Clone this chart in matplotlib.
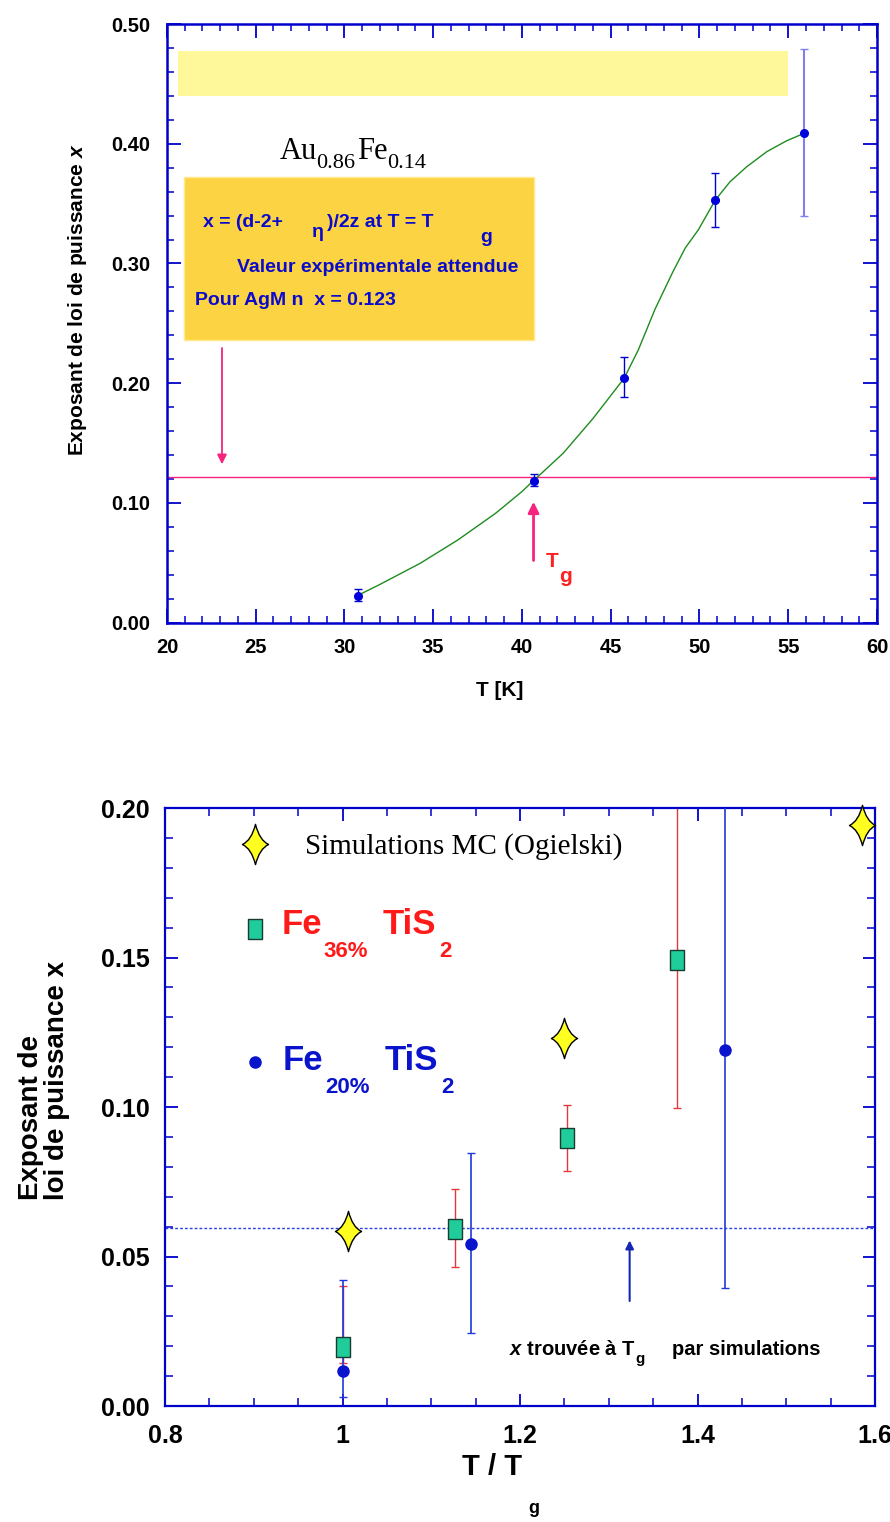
import matplotlib
matplotlib.use('Agg')
import matplotlib.pyplot as plt
from matplotlib.path import Path
from matplotlib.patches import Rectangle
from matplotlib.ticker import MultipleLocator, FuncFormatter

# --- panneau du haut : Au0.86Fe0.14 ---
T_K = [30.75, 40.65, 45.75, 50.89, 55.89]
x_mes = [0.0226, 0.1186, 0.204, 0.353, 0.4087]
x_bas = [0.0179, 0.1144, 0.1887, 0.3302, 0.3397]
x_haut = [0.0284, 0.124, 0.2216, 0.3758, 0.4794]
# courbe verte
T_courbe = [30.73, 31.94, 34.27, 36.39, 38.51, 39.99, 40.65, 42.32, 44.01, 45.75,
            46.55, 47.5, 48.5, 49.2, 49.93, 50.89, 51.72, 52.66, 53.79, 54.91, 55.89]
x_courbe = [0.0226, 0.0315, 0.0496, 0.0691, 0.0913, 0.1094, 0.1186, 0.1415, 0.1707, 0.204,
            0.2277, 0.262, 0.293, 0.313, 0.328, 0.353, 0.3683, 0.3808, 0.3934, 0.4025, 0.4087]
x_AgMn = 0.122

# --- panneau du bas : Fe_x TiS2 ---
T_sim = [1.0058, 1.2494, 1.5857]
x_sim = [0.0585, 0.1232, 0.1944]
T36 = [1.0, 1.1268, 1.2527, 1.3766]
x36 = [0.0197, 0.0593, 0.0897, 0.1493]
bas36 = [0.0144, 0.0466, 0.0785, 0.0998]
haut36 = [0.0401, 0.0727, 0.1006, 0.26]
T20 = [1.0, 1.1446, 1.4309]
x20 = [0.0116, 0.0541, 0.1192]
bas20 = [0.003, 0.0245, 0.0394]
haut20 = [0.042, 0.0847, 0.26]
x_sim_Tg = 0.0595

plt.rcParams['font.family'] = ['Liberation Sans', 'DejaVu Sans']
plt.rcParams['font.weight'] = 'bold'
plt.rcParams['mathtext.fontset'] = 'custom'
plt.rcParams['mathtext.rm'] = 'Liberation Sans:bold'
plt.rcParams['mathtext.it'] = 'Liberation Sans:italic:bold'
plt.rcParams['mathtext.bf'] = 'Liberation Sans:bold'

BLEU = '#0000CC'
ROSE = '#F7247F'
SERIF = 'Liberation Serif'


def cadre(ax, lw, majl, minl):
    for s in ax.spines.values():
        s.set_color(BLEU)
        s.set_linewidth(lw)
    ax.tick_params(which='both', direction='in', top=True, right=True,
                   color=BLEU, labelcolor='black')
    ax.tick_params(which='major', length=majl, width=1.3)
    ax.tick_params(which='minor', length=minl, width=1.1)


def err(y, bas, haut):
    return [[a - b for a, b in zip(y, bas)], [h - a for a, h in zip(y, haut)]]


fig = plt.figure(figsize=(8.9, 15.22), dpi=100)

# ================= haut =================
ax1 = fig.add_axes([0.1876, 0.5909, 0.7978, 0.3933])
cadre(ax1, 1.8, 10, 5)
ax1.set_xlim(20, 60)
ax1.set_ylim(0, 0.5)
ax1.xaxis.set_major_locator(MultipleLocator(5))
ax1.xaxis.set_minor_locator(MultipleLocator(1))
ax1.yaxis.set_major_locator(MultipleLocator(0.1))
ax1.yaxis.set_minor_locator(MultipleLocator(0.02))
ax1.yaxis.set_major_formatter(FuncFormatter(lambda v, p: '%.2f' % v))
ax1.tick_params(axis='both', labelsize=14.5)
ax1.tick_params(axis='x', pad=11)
ax1.tick_params(axis='y', pad=12)

ax1.add_patch(Rectangle((20.6, 0.4401), 54.97 - 20.6, 0.4772 - 0.4401,
                        facecolor='#FFF89A', edgecolor='none', zorder=1))
ax1.add_patch(Rectangle((20.96, 0.2361), 40.68 - 20.96, 0.3722 - 0.2361,
                        facecolor='#FCD443', edgecolor='#FFE98A', lw=1, zorder=1))

ax1.axhline(x_AgMn, color=ROSE, lw=1, zorder=2)
ax1.plot(T_courbe, x_courbe, color='#1E8C1E', lw=1, zorder=3)
e = err(x_mes, x_bas, x_haut)
ax1.errorbar(T_K[:4], x_mes[:4], yerr=[e[0][:4], e[1][:4]], fmt='o', color='#0000DD',
             ms=5.5, ecolor=BLEU, elinewidth=1, capsize=3, zorder=4)
ax1.errorbar(T_K[4:], x_mes[4:], yerr=[e[0][4:], e[1][4:]], fmt='o', color='#0000DD',
             ms=5.5, ecolor='#7F7FF0', elinewidth=1.5, capsize=3, zorder=4)

# titre Au0.86Fe0.14
ax1.text(26.37, 0.387, 'Au', family=SERIF, fontweight='normal', fontsize=22)
ax1.text(28.43, 0.3795, '0.86', family=SERIF, fontweight='normal', fontsize=16)
ax1.text(30.69, 0.387, 'Fe', family=SERIF, fontweight='normal', fontsize=22)
ax1.text(32.38, 0.3795, '0.14', family=SERIF, fontweight='normal', fontsize=16)

tb = dict(color='#0A0ACD', fontsize=14, fontweight='bold', zorder=5)
ax1.text(22.05, 0.3307, 'x = (d-2+', **tb)
ax1.text(28.15, 0.3224, 'η', **tb)
ax1.text(29.0, 0.3307, ')/2z at T = T', **tb)
ax1.text(37.63, 0.3182, 'g', **tb)
ax1.text(23.93, 0.2931, 'Valeur expérimentale attendue', **tb)
ax1.text(21.58, 0.2653, 'Pour AgM n  x = 0.123', **tb)

ax1.annotate('', xy=(23.1, 0.130), xytext=(23.1, 0.2317),
             arrowprops=dict(arrowstyle='-|>', color=ROSE, lw=1.3, mutation_scale=14))
ax1.annotate('', xy=(40.65, 0.1033), xytext=(40.65, 0.0496),
             arrowprops=dict(arrowstyle='-|>', color=ROSE, lw=2, mutation_scale=16))
ax1.text(41.35, 0.0468, 'T', color='#FF2020', fontsize=15, fontweight='bold')
ax1.text(42.08, 0.0342, 'g', color='#FF2020', fontsize=15, fontweight='bold')

ax1.set_xlabel('T [K]', fontsize=15, fontweight='bold')
ax1.xaxis.set_label_coords(0.468, -0.098)
ax1.set_ylabel('Exposant de loi de puissance $x$', fontsize=15, fontweight='bold')
ax1.yaxis.set_label_coords(-0.11, 0.539)

# ================= bas =================
ax2 = fig.add_axes([0.1854, 0.0762, 0.7978, 0.3929])
cadre(ax2, 1.6, 9, 6)
ax2.set_xlim(0.8, 1.6)
ax2.set_ylim(0, 0.2)
ax2.xaxis.set_major_locator(MultipleLocator(0.2))
ax2.xaxis.set_minor_locator(MultipleLocator(0.05))
ax2.yaxis.set_major_locator(MultipleLocator(0.05))
ax2.yaxis.set_minor_locator(MultipleLocator(0.01))
ax2.xaxis.set_major_formatter(FuncFormatter(lambda v, p: '%g' % round(v, 2)))
ax2.yaxis.set_major_formatter(FuncFormatter(lambda v, p: '%.2f' % v))
ax2.tick_params(axis='both', labelsize=18)
ax2.tick_params(axis='x', pad=13)
ax2.tick_params(axis='y', pad=11)

ax2.axhline(x_sim_Tg, color='#2A3FE0', lw=1, ls=(0, (2, 1.5)), zorder=1)

rect = Path([(-0.36, -0.5), (0.36, -0.5), (0.36, 0.5), (-0.36, 0.5), (-0.36, -0.5)],
            [Path.MOVETO, Path.LINETO, Path.LINETO, Path.LINETO, Path.CLOSEPOLY])
etoile = Path([(0, 1), (0.2, 0.2), (0.65, 0), (0.2, -0.2), (0, -1),
               (-0.2, -0.2), (-0.65, 0), (-0.2, 0.2), (0, 1), (0, 1)],
              [Path.MOVETO, Path.CURVE3, Path.CURVE3, Path.CURVE3, Path.CURVE3,
               Path.CURVE3, Path.CURVE3, Path.CURVE3, Path.CURVE3, Path.CLOSEPOLY])

ax2.errorbar(T36, x36, yerr=err(x36, bas36, haut36), fmt='none', ecolor='#E03A3A',
             elinewidth=1, capsize=3, zorder=2)
ax2.errorbar(T20, x20, yerr=err(x20, bas20, haut20), fmt='none', ecolor='#2038D8',
             elinewidth=1.2, capsize=3, zorder=3)
ax2.plot(T36, x36, ls='none', marker=rect, ms=14, mfc='#1FCC9A', mec='#1B3B30',
         mew=1, zorder=4)
ax2.plot(T20, x20, ls='none', marker='o', ms=8, mfc='#0A14CC', mec='#0A14CC', zorder=4)
ax2.plot(T_sim, x_sim, ls='none', marker=etoile, ms=29, mfc='#FFFF20', mec='black',
         mew=1, zorder=5, clip_on=False)

# legende manuelle
ax2.plot([0.901], [0.188], ls='none', marker=etoile, ms=29, mfc='#FFFF20', mec='black', mew=1)
ax2.text(0.9577, 0.1848, 'Simulations MC (Ogielski)', family=SERIF, fontweight='normal',
         fontsize=21)
ax2.plot([0.901], [0.1597], ls='none', marker=rect, ms=14, mfc='#1FCC9A', mec='#1B3B30', mew=1)
rouge = dict(color='#FF1A1A', fontweight='bold')
ax2.text(0.931, 0.1579, 'Fe', fontsize=25, **rouge)
ax2.text(0.979, 0.1503, '36%', fontsize=16, **rouge)
ax2.text(1.0456, 0.1579, 'TiS', fontsize=25, **rouge)
ax2.text(1.1094, 0.1503, '2', fontsize=16, **rouge)
ax2.plot([0.901], [0.1151], ls='none', marker='o', ms=8, mfc='#0A14CC', mec='#0A14CC')
bleu = dict(color='#0A14CC', fontweight='bold')
ax2.text(0.932, 0.1124, 'Fe', fontsize=25, **bleu)
ax2.text(0.981, 0.1048, '20%', fontsize=16, **bleu)
ax2.text(1.0477, 0.1124, 'TiS', fontsize=25, **bleu)
ax2.text(1.1115, 0.1048, '2', fontsize=16, **bleu)

ax2.annotate('', xy=(1.3235, 0.0563), xytext=(1.3235, 0.0342),
             arrowprops=dict(arrowstyle='-|>', color='#1428B4', lw=1.5, mutation_scale=12))
ax2.text(1.1876, 0.0171, '$x$ trouvée à T', fontsize=14.5, fontweight='bold')
ax2.text(1.3303, 0.0143, 'g', fontsize=11, fontweight='bold')
ax2.text(1.3716, 0.0171, 'par simulations', fontsize=14.5, fontweight='bold')

ax2.text(0.418, -0.115, 'T / T', transform=ax2.transAxes, fontsize=21, fontweight='bold')
ax2.text(0.512, -0.179, 'g', transform=ax2.transAxes, fontsize=13, fontweight='bold')
ax2.set_ylabel('Exposant de\nloi de puissance x', fontsize=20, fontweight='bold',
               multialignment='left', linespacing=1.0)
ax2.yaxis.set_label_coords(-0.134, 0.545)

fig.savefig('out.png', dpi=100)
